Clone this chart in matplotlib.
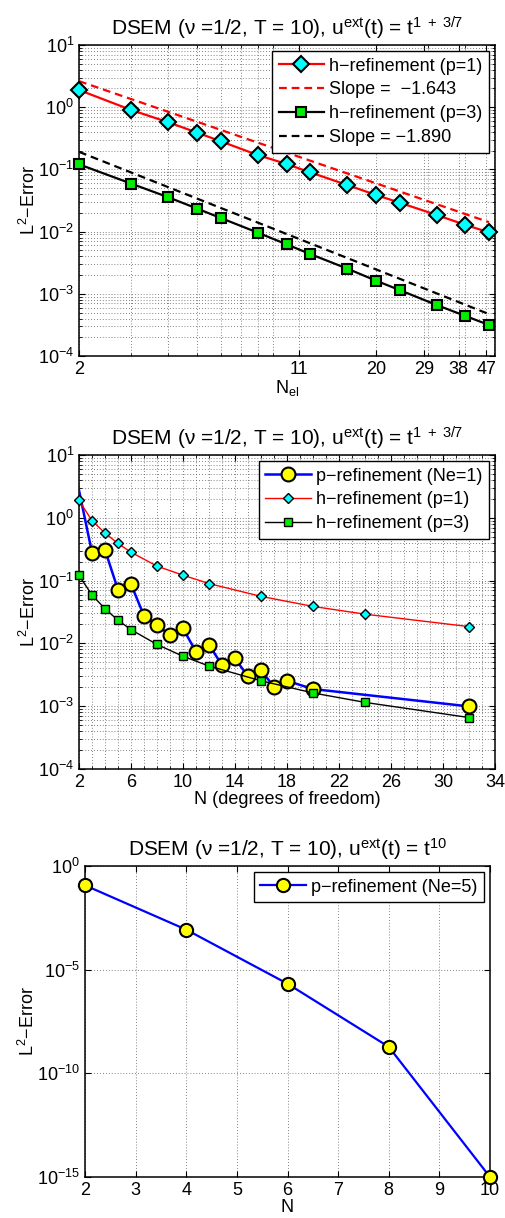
import numpy as np
import matplotlib
matplotlib.use("Agg")
import matplotlib.pyplot as plt
from matplotlib.ticker import LogLocator, NullFormatter, FixedLocator, MultipleLocator

plt.rcParams['font.family'] = ['Liberation Sans', 'DejaVu Sans']
plt.rcParams['mathtext.fontset'] = 'custom'
plt.rcParams['mathtext.rm'] = 'Liberation Sans'
plt.rcParams['mathtext.it'] = 'Liberation Sans'
plt.rcParams['mathtext.bf'] = 'Liberation Sans:bold'

# ---------------- data ----------------
# h-refinement: number of elements
n_el = [2, 3, 4, 5, 6, 8, 10, 12, 16, 20, 24, 32, 40, 48]
err_h_p1 = [1.89, 0.90, 0.571, 0.390, 0.283, 0.170, 0.122, 0.0897, 0.0561,
            0.0388, 0.0292, 0.0185, 0.0128, 0.00973]
err_h_p3 = [0.1207, 0.059, 0.0356, 0.0234, 0.01655, 0.00962, 0.00624, 0.00436,
            0.00254, 0.001626, 0.00115, 0.00066, 0.00044, 0.000315]
# fitted reference slopes: err = coef * N^slope
slope_p1, coef_p1 = -1.643, 8.2
slope_p3, coef_p3 = -1.890, 0.71
slope_labels = ['Slope =  \u22121.643', 'Slope = \u22121.890']
top_xticks = [2, 11, 20, 29, 38, 47]

# p-refinement, one element
n_p = [1, 3, 4, 5, 6, 7, 8, 9, 10, 11, 12, 13, 14, 15, 16, 17, 18, 20, 32]
err_p = [27.0, 0.279, 0.308, 0.0713, 0.0877, 0.0275, 0.0195, 0.01355, 0.0173,
         0.00735, 0.0095, 0.00451, 0.00575, 0.00298, 0.0038, 0.00201, 0.00254,
         0.001875, 0.000993]
n_mid = 12  # number of h-refinement points shown in middle panel
mid_xticks = [2, 6, 10, 14, 18, 22, 26, 30, 34]

# p-refinement, five elements, smooth solution
n_p5 = [2, 4, 6, 8, 10]
err_p5 = [0.117, 8.5e-4, 2.1e-6, 1.9e-9, 1.0e-15]
bot_xticks = [2, 3, 4, 5, 6, 7, 8, 9, 10]
bot_yticks = [1e-15, 1e-10, 1e-5, 1e0]

title_a = 'DSEM (\u03bd =1/2, T = 10), u$^{\\mathrm{ext}}$(t) = t$^{\\mathrm{1\\ +\\ 3/7}}$'
title_b = 'DSEM (\u03bd =1/2, T = 10), u$^{\\mathrm{ext}}$(t) = t$^{\\mathrm{10}}$'
ylab = 'L$^{\\mathrm{2}}$\u2212Error'

FS = 13
LFS = 13
fig = plt.figure(figsize=(5.06, 12.18), dpi=100)
W, H = 506, 1218


def add_axes(l, r, t, b):
    return fig.add_axes([l / W, 1 - b / H, (r - l) / W, (b - t) / H])


def style(ax):
    ax.tick_params(which='both', direction='in', top=True, right=True,
                   labelsize=FS, colors='black')
    ax.tick_params(which='major', length=4, width=0.8)
    ax.tick_params(which='minor', length=2.2, width=0.6)
    for s in ax.spines.values():
        s.set_linewidth(1.1)
        s.set_color('black')


def legend(ax):
    leg = ax.legend(loc='upper right', fontsize=LFS, frameon=True, fancybox=False,
                    edgecolor='black', framealpha=1, borderaxespad=0.35,
                    handlelength=2.5, handletextpad=0.3, labelspacing=0.38,
                    borderpad=0.35, numpoints=1)
    leg.get_frame().set_linewidth(1.0)


grid_kw = dict(color='0.35', linestyle=(0, (1, 2.5)), linewidth=0.6)

# ---------------- top panel ----------------
ax1 = add_axes(79, 495, 45, 356)
x = np.array(n_el, dtype=float)
ax1.plot(n_el, err_h_p1, '-', color='red', lw=1.6, marker='D', ms=8.5,
         mfc='cyan', mec='black', mew=1.5, clip_on=False, zorder=4,
         label='h\u2212refinement (p=1)')
ax1.plot(n_el, coef_p1 * x ** slope_p1, color='red', lw=1.6, dashes=(3.5, 2.2),
         label=slope_labels[0], zorder=3)
ax1.plot(n_el, err_h_p3, '-', color='black', lw=1.6, marker='s', ms=7.5,
         mfc='#00ee00', mec='black', mew=1.5, clip_on=False, zorder=4,
         label='h\u2212refinement (p=3)')
ax1.plot(n_el, coef_p3 * x ** slope_p3, color='black', lw=1.6, dashes=(3.5, 2.2),
         label=slope_labels[1], zorder=3)
ax1.set_xscale('log')
ax1.set_yscale('log')
ax1.set_xlim(2, 50.3)
ax1.set_ylim(1e-4, 1e1)
ax1.xaxis.set_major_locator(FixedLocator(top_xticks))
ax1.set_xticklabels([str(t) for t in top_xticks])
ax1.xaxis.set_minor_locator(LogLocator(base=10, subs=np.arange(2, 10)))
ax1.xaxis.set_minor_formatter(NullFormatter())
ax1.yaxis.set_major_locator(LogLocator(base=10, numticks=10))
ax1.yaxis.set_minor_locator(LogLocator(base=10, subs=np.arange(2, 10), numticks=20))
ax1.yaxis.set_minor_formatter(NullFormatter())
ax1.grid(True, which='both', **grid_kw)
style(ax1)
ax1.set_title(title_a, fontsize=15, pad=7)
ax1.set_ylabel(ylab, fontsize=FS, labelpad=-1)
ax1.set_xlabel('N$_{\\mathrm{el}}$', fontsize=FS, labelpad=0)
legend(ax1)

# ---------------- middle panel ----------------
ax2 = add_axes(79, 495, 455, 769)
ax2.plot(n_p, err_p, '-', color='blue', lw=1.8, marker='o', ms=10,
         mfc='yellow', mec='black', mew=1.5, zorder=3,
         label='p\u2212refinement (Ne=1)')
ax2.plot(n_el[:n_mid], err_h_p1[:n_mid], '-', color='red', lw=1.0, marker='D',
         ms=5.2, mfc='cyan', mec='black', mew=1.0, clip_on=False, zorder=4,
         label='h\u2212refinement (p=1)')
ax2.plot(n_el[:n_mid], err_h_p3[:n_mid], '-', color='black', lw=1.0, marker='s',
         ms=5.5, mfc='#00ee00', mec='black', mew=1.0, clip_on=False, zorder=5,
         label='h\u2212refinement (p=3)')
ax2.set_yscale('log')
ax2.set_xlim(2, 34)
ax2.set_ylim(1e-4, 1e1)
ax2.xaxis.set_major_locator(FixedLocator(mid_xticks))
ax2.xaxis.set_minor_locator(MultipleLocator(1))
ax2.yaxis.set_major_locator(LogLocator(base=10, numticks=10))
ax2.yaxis.set_minor_locator(LogLocator(base=10, subs=np.arange(2, 10), numticks=20))
ax2.yaxis.set_minor_formatter(NullFormatter())
ax2.grid(True, which='both', **grid_kw)
style(ax2)
ax2.set_title(title_a, fontsize=15, pad=7)
ax2.set_ylabel(ylab, fontsize=FS, labelpad=-1)
ax2.set_xlabel('N (degrees of freedom)', fontsize=FS, labelpad=0)
legend(ax2)

# ---------------- bottom panel ----------------
ax3 = add_axes(85, 490, 866, 1177)
ax3.plot(n_p5, err_p5, '-', color='blue', lw=1.6, marker='o', ms=9.5,
         mfc='yellow', mec='black', mew=1.5, clip_on=False, zorder=4,
         label='p\u2212refinement (Ne=5)')
ax3.set_yscale('log')
ax3.set_xlim(2, 10)
ax3.set_ylim(1e-15, 1e0)
ax3.xaxis.set_major_locator(FixedLocator(bot_xticks))
ax3.yaxis.set_major_locator(FixedLocator(bot_yticks))
ax3.yaxis.set_minor_locator(FixedLocator([]))
ax3.grid(True, which='major', **grid_kw)
style(ax3)
ax3.set_title(title_b, fontsize=15, pad=7)
ax3.set_ylabel(ylab, fontsize=FS, labelpad=-1)
ax3.set_xlabel('N', fontsize=FS, labelpad=0)
legend(ax3)

fig.savefig('out.png', dpi=100)
